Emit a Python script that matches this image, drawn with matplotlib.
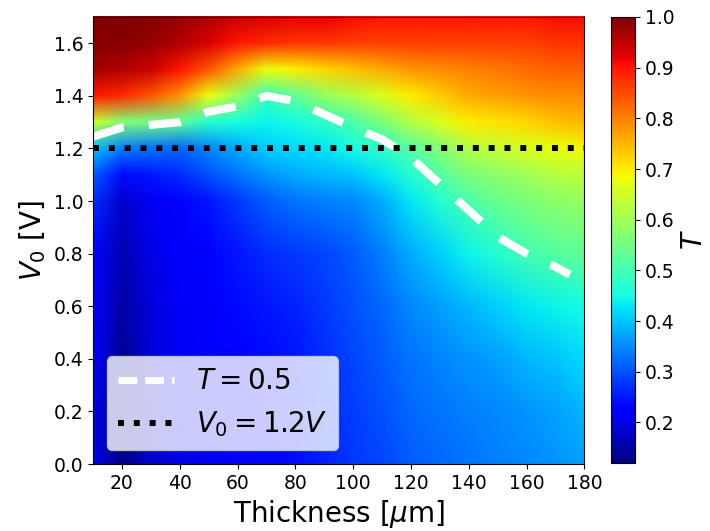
import numpy as np
import matplotlib
matplotlib.use('Agg')
import matplotlib.pyplot as plt
from matplotlib.image import NonUniformImage
from matplotlib.lines import Line2D

# grid of the map (thickness in um, V0 in V)
thickness = [10, 20, 30, 40, 50, 60, 70, 80, 90, 100, 110, 120, 130, 140, 150, 160, 170, 180]
v0 = [0.0, 0.2, 0.4, 0.6, 0.8, 1.0, 1.1, 1.2, 1.3, 1.4, 1.5, 1.6, 1.7]

# T values, one row per V0 value
T_rows = [
    [0.20, 0.13, 0.18, 0.20, 0.21, 0.22, 0.23, 0.24, 0.26, 0.28, 0.29, 0.31, 0.32, 0.33, 0.34, 0.35, 0.36, 0.37],
    [0.20, 0.13, 0.18, 0.21, 0.22, 0.225, 0.235, 0.245, 0.265, 0.285, 0.30, 0.32, 0.33, 0.34, 0.35, 0.36, 0.37, 0.39],
    [0.21, 0.14, 0.19, 0.21, 0.22, 0.23, 0.24, 0.25, 0.27, 0.29, 0.31, 0.33, 0.345, 0.36, 0.37, 0.39, 0.40, 0.42],
    [0.22, 0.15, 0.19, 0.215, 0.225, 0.24, 0.25, 0.26, 0.28, 0.30, 0.32, 0.35, 0.37, 0.39, 0.41, 0.43, 0.44, 0.45],
    [0.23, 0.16, 0.20, 0.22, 0.23, 0.25, 0.27, 0.28, 0.29, 0.31, 0.34, 0.38, 0.41, 0.44, 0.47, 0.50, 0.52, 0.53],
    [0.27, 0.18, 0.21, 0.23, 0.25, 0.28, 0.31, 0.33, 0.34, 0.35, 0.38, 0.43, 0.47, 0.51, 0.54, 0.56, 0.58, 0.59],
    [0.31, 0.24, 0.25, 0.27, 0.30, 0.33, 0.36, 0.38, 0.39, 0.40, 0.43, 0.47, 0.52, 0.56, 0.58, 0.60, 0.62, 0.63],
    [0.40, 0.34, 0.33, 0.32, 0.35, 0.38, 0.41, 0.42, 0.43, 0.45, 0.48, 0.52, 0.57, 0.62, 0.64, 0.66, 0.68, 0.69],
    [0.65, 0.57, 0.55, 0.53, 0.47, 0.45, 0.44, 0.45, 0.48, 0.51, 0.56, 0.62, 0.66, 0.70, 0.71, 0.72, 0.74, 0.75],
    [0.90, 0.88, 0.84, 0.78, 0.68, 0.59, 0.49, 0.53, 0.59, 0.62, 0.66, 0.70, 0.73, 0.76, 0.77, 0.78, 0.79, 0.79],
    [0.97, 0.96, 0.94, 0.90, 0.84, 0.76, 0.68, 0.70, 0.72, 0.74, 0.76, 0.78, 0.79, 0.80, 0.81, 0.82, 0.83, 0.83],
    [0.99, 0.99, 0.98, 0.96, 0.93, 0.90, 0.88, 0.87, 0.87, 0.86, 0.86, 0.86, 0.86, 0.86, 0.86, 0.86, 0.87, 0.87],
    [1.00, 1.00, 0.99, 0.98, 0.96, 0.94, 0.93, 0.92, 0.92, 0.91, 0.90, 0.90, 0.90, 0.90, 0.90, 0.90, 0.91, 0.91],
]

# T = 0.5 line
thick_half = [10, 20, 30, 40, 50, 60, 70, 80, 90, 100, 110, 120, 130, 140, 150, 160, 170, 175]
v0_half = [1.245, 1.28, 1.29, 1.30, 1.34, 1.36, 1.40, 1.38, 1.33, 1.28, 1.235, 1.165, 1.065, 0.965, 0.865, 0.80, 0.75, 0.72]

v0_ref = 1.2

fig = plt.figure(figsize=(7.1, 5.31), dpi=100)
ax = fig.add_axes([0.131, 0.126, 0.692, 0.842])
cax = fig.add_axes([0.8606, 0.128, 0.034, 0.840])

im = NonUniformImage(ax, interpolation='bilinear', cmap='jet',
                     extent=(thickness[0], thickness[-1], v0[0], v0[-1]))
im.set_data(thickness, v0, np.array(T_rows))
im.set_clim(0.12, 1.0)
ax.add_image(im)

ax.plot(thick_half, v0_half, color='white', lw=5.8, dashes=(4.0, 3.1))
ax.axhline(v0_ref, color='black', ls=':', lw=4.3)

ax.set_xlim(10, 180)
ax.set_ylim(0, 1.7)
ax.set_xticks(range(20, 181, 20))
ax.set_yticks(np.arange(0, 1.61, 0.2))
ax.tick_params(labelsize=13.5)
ax.set_xlabel(r'Thickness [$\mu$m]', fontsize=20)
ax.set_ylabel(r'$V_0$ [V]', fontsize=20)

handles = [Line2D([], [], color='white', lw=5, dashes=(2.7, 1.15)),
           Line2D([], [], color='black', lw=4.3, ls=':')]
ax.legend(handles, [r'$T=0.5$', r'$V_0=1.2V$'], loc='lower left', fontsize=20)

cbar = fig.colorbar(im, cax=cax)
cbar.set_ticks(np.arange(0.2, 1.01, 0.1))
cbar.ax.tick_params(labelsize=13.5)
cbar.set_label(r'$T$', fontsize=20)

plt.savefig('out.png')
